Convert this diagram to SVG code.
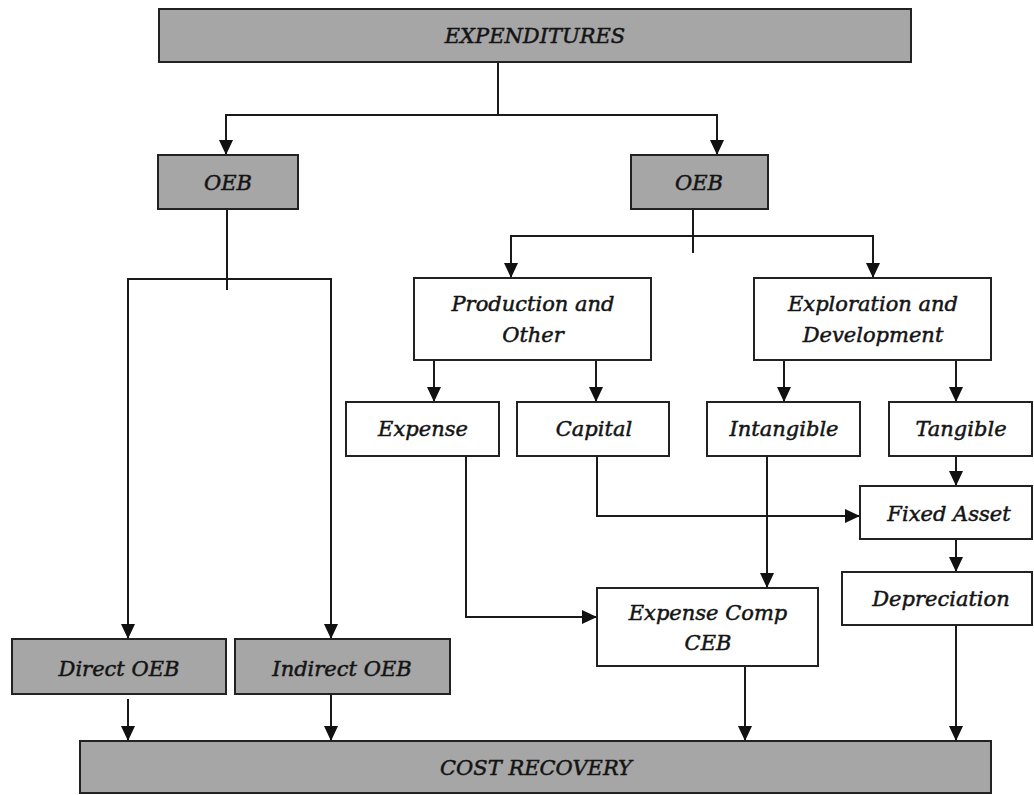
<svg xmlns="http://www.w3.org/2000/svg" width="1034" height="795" viewBox="0 0 1034 795">
<style>
  .box{fill:#ffffff;stroke:#222;stroke-width:2}
  .gray{fill:#a6a6a6;stroke:#222;stroke-width:2}
  .t{font-family:"DejaVu Serif","Liberation Serif",serif;font-style:italic;font-size:21px;fill:#141414;stroke:#141414;stroke-width:0.5;text-anchor:middle}
  .c{fill:none;stroke:#1a1a1a;stroke-width:2}
  .a{marker-end:url(#arr)}
</style>
<defs>
  <marker id="arr" markerUnits="userSpaceOnUse" markerWidth="15" markerHeight="14" refX="15" refY="7" orient="auto">
    <path d="M0,0 L15,7 L0,14 Z" fill="#111"/>
  </marker>
</defs>
<rect width="1034" height="795" fill="#ffffff"/>

<g id="connectors">
  <path class="c" d="M498,62 V115"/>
  <path class="c a" d="M498,115 H226 V155"/>
  <path class="c a" d="M498,115 H717 V155"/>
  <path class="c" d="M227,209 V290"/>
  <path class="c a" d="M227,279 H128 V639"/>
  <path class="c a" d="M227,279 H331 V639"/>
  <path class="c" d="M693,209 V253"/>
  <path class="c a" d="M693,236 H511 V278"/>
  <path class="c a" d="M693,236 H873 V278"/>
  <path class="c a" d="M434,360 V402"/>
  <path class="c a" d="M596,360 V402"/>
  <path class="c a" d="M784,360 V402"/>
  <path class="c a" d="M956,360 V402"/>
  <path class="c a" d="M466,456 V617 H597"/>
  <path class="c a" d="M597,456 V516 H860"/>
  <path class="c a" d="M767,456 V588"/>
  <path class="c a" d="M956,456 V486"/>
  <path class="c a" d="M956,539 V572"/>
  <path class="c a" d="M128,699 V741"/>
  <path class="c a" d="M331,694 V741"/>
  <path class="c a" d="M745,666 V741"/>
  <path class="c a" d="M956,625 V741"/>
</g>

<g id="expenditures"><rect class="gray" x="159" y="9" width="752" height="53"/><text class="t" x="535" y="43">EXPENDITURES</text></g>
<g id="oeb-left"><rect class="gray" x="158" y="155" width="140" height="54"/><text class="t" x="228" y="190">OEB</text></g>
<g id="oeb-right"><rect class="gray" x="631" y="155" width="137" height="54"/><text class="t" x="699" y="190">OEB</text></g>
<g id="production"><rect class="box" x="414" y="278" width="237" height="82"/><text class="t" x="533" y="311">Production and</text><text class="t" x="533" y="342">Other</text></g>
<g id="exploration"><rect class="box" x="754" y="278" width="237" height="82"/><text class="t" x="873" y="311">Exploration and</text><text class="t" x="873" y="342">Development</text></g>
<g id="expense"><rect class="box" x="346" y="402" width="153" height="54"/><text class="t" x="423" y="436">Expense</text></g>
<g id="capital"><rect class="box" x="517" y="402" width="152" height="54"/><text class="t" x="594" y="436">Capital</text></g>
<g id="intangible"><rect class="box" x="707" y="402" width="153" height="54"/><text class="t" x="784" y="436">Intangible</text></g>
<g id="tangible"><rect class="box" x="889" y="402" width="143" height="54"/><text class="t" x="961" y="436">Tangible</text></g>
<g id="fixed-asset"><rect class="box" x="860" y="486" width="172" height="53"/><text class="t" x="949" y="521">Fixed Asset</text></g>
<g id="depreciation"><rect class="box" x="842" y="572" width="190" height="53"/><text class="t" x="941" y="606">Depreciation</text></g>
<g id="expense-comp"><rect class="box" x="597" y="588" width="221" height="78"/><text class="t" x="708" y="620">Expense Comp</text><text class="t" x="708" y="650">CEB</text></g>
<g id="direct-oeb"><rect class="gray" x="12" y="639" width="214" height="55"/><text class="t" x="119" y="676">Direct OEB</text></g>
<g id="indirect-oeb"><rect class="gray" x="235" y="639" width="215" height="55"/><text class="t" x="342" y="676">Indirect OEB</text></g>
<g id="cost-recovery"><rect class="gray" x="80" y="741" width="911" height="52"/><text class="t" x="536" y="775">COST RECOVERY</text></g>
</svg>
